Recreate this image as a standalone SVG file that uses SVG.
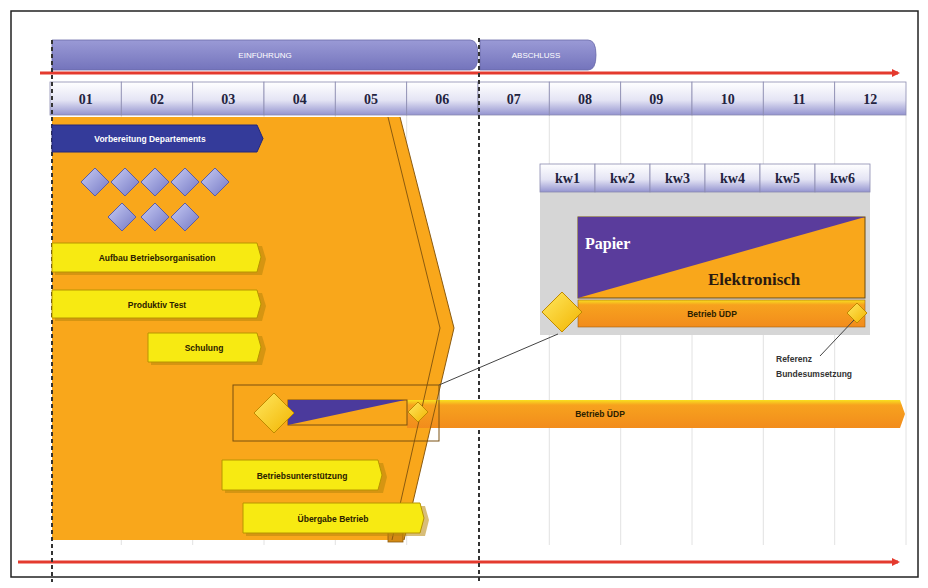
<svg xmlns="http://www.w3.org/2000/svg" width="928" height="588" viewBox="0 0 928 588">
<defs>
<linearGradient id="hdr" x1="0" y1="0" x2="0" y2="1"><stop offset="0" stop-color="#ffffff"/><stop offset="0.55" stop-color="#e4e4f4"/><stop offset="1" stop-color="#9494d0"/></linearGradient>
<linearGradient id="phase" x1="0" y1="0" x2="0" y2="1"><stop offset="0" stop-color="#9a9ad6"/><stop offset="1" stop-color="#7474bc"/></linearGradient>
<linearGradient id="dia" x1="0" y1="0" x2="1" y2="1"><stop offset="0" stop-color="#c8ccf4"/><stop offset="1" stop-color="#7478c4"/></linearGradient>
<linearGradient id="ydia" x1="0" y1="0" x2="1" y2="1"><stop offset="0" stop-color="#ffe860"/><stop offset="1" stop-color="#f2b400"/></linearGradient>
<linearGradient id="bet" x1="0" y1="0" x2="0" y2="1"><stop offset="0" stop-color="#f8e020"/><stop offset="0.18" stop-color="#f7a21e"/><stop offset="1" stop-color="#f28c1c"/></linearGradient>
<marker id="arr" markerWidth="8" markerHeight="8" refX="6" refY="4" orient="auto" markerUnits="userSpaceOnUse"><path d="M0,0 L8,4 L0,8 Z" fill="#e43a2e"/></marker>
<style>
.red{stroke:#e43a2e;stroke-width:3;fill:none}
.grid{stroke:#e2e2e2;stroke-width:1}
.dash{stroke:#333;stroke-width:2;stroke-dasharray:4 3;fill:none}
.hdr{fill:url(#hdr);stroke:#8a8ab0;stroke-width:0.8}
.num{font-family:"Liberation Serif",serif;font-weight:bold;font-size:14px;fill:#23233f;text-anchor:middle}
.ph{font-family:"Liberation Sans",sans-serif;font-size:8px;fill:#fff;text-anchor:middle}
.ybar{fill:#f7ea12;stroke:#b89400;stroke-width:1}
.ysh{fill:#b8860b;opacity:0.55}
.lbl{font-family:"Liberation Sans",sans-serif;font-weight:bold;font-size:8.5px;fill:#2a2000;text-anchor:middle}
.bdia{fill:url(#dia);stroke:#5e5ea0;stroke-width:1}
.ydia{fill:url(#ydia);stroke:#c08a00;stroke-width:1}
.conn{stroke:#444;stroke-width:1;fill:none}
.edge{fill:none;stroke:#8a5a10;stroke-width:1}
</style>
</defs>
<rect x="11" y="11" width="907" height="566" fill="#fff" stroke="#222" stroke-width="1.5"/>

<g id="grid">
<line class="grid" x1="121.3" y1="115" x2="121.3" y2="545"/>
<line class="grid" x1="192.7" y1="115" x2="192.7" y2="545"/>
<line class="grid" x1="264" y1="115" x2="264" y2="545"/>
<line class="grid" x1="335.3" y1="115" x2="335.3" y2="545"/>
<line class="grid" x1="406.7" y1="115" x2="406.7" y2="545"/>
<line class="grid" x1="549.3" y1="115" x2="549.3" y2="545"/>
<line class="grid" x1="620.7" y1="115" x2="620.7" y2="545"/>
<line class="grid" x1="692" y1="115" x2="692" y2="545"/>
<line class="grid" x1="763.3" y1="115" x2="763.3" y2="545"/>
<line class="grid" x1="834.7" y1="115" x2="834.7" y2="545"/>
<line class="grid" x1="906" y1="115" x2="906" y2="545"/>
</g>

<g id="phase-einfuehrung">
<path d="M52,40 H470 Q478,40 478,55 Q478,70 470,70 H52 Z" fill="url(#phase)" stroke="#6a6aa8" stroke-width="0.8"/>
<text class="ph" x="265" y="58">EINFÜHRUNG</text>
</g>
<g id="phase-abschluss">
<path d="M480,40 H588 Q596,40 596,55 Q596,70 588,70 H480 Z" fill="url(#phase)" stroke="#6a6aa8" stroke-width="0.8"/>
<text class="ph" x="536" y="58">ABSCHLUSS</text>
</g>

<g id="months">
<rect class="hdr" x="50" y="82" width="71.3" height="33"/>
<rect class="hdr" x="121.3" y="82" width="71.4" height="33"/>
<rect class="hdr" x="192.7" y="82" width="71.3" height="33"/>
<rect class="hdr" x="264" y="82" width="71.3" height="33"/>
<rect class="hdr" x="335.3" y="82" width="71.4" height="33"/>
<rect class="hdr" x="406.7" y="82" width="71.3" height="33"/>
<rect class="hdr" x="478" y="82" width="71.3" height="33"/>
<rect class="hdr" x="549.3" y="82" width="71.4" height="33"/>
<rect class="hdr" x="620.7" y="82" width="71.3" height="33"/>
<rect class="hdr" x="692" y="82" width="71.3" height="33"/>
<rect class="hdr" x="763.3" y="82" width="71.4" height="33"/>
<rect class="hdr" x="834.7" y="82" width="71.3" height="33"/>
<text class="num" x="85.7" y="104">01</text>
<text class="num" x="157" y="104">02</text>
<text class="num" x="228.3" y="104">03</text>
<text class="num" x="299.7" y="104">04</text>
<text class="num" x="371" y="104">05</text>
<text class="num" x="442.3" y="104">06</text>
<text class="num" x="513.7" y="104">07</text>
<text class="num" x="585" y="104">08</text>
<text class="num" x="656.3" y="104">09</text>
<text class="num" x="727.7" y="104">10</text>
<text class="num" x="799" y="104">11</text>
<text class="num" x="870.3" y="104">12</text>
</g>

<g id="phase-area">
<polygon points="52,117 400,117 454,328 404,540 52,540" fill="#f9a71b"/>
<rect x="388" y="532" width="15" height="10" fill="#d48a14" stroke="#8a5a10" stroke-width="0.8"/>
</g>

<g id="timeline-top"><line class="red" x1="40" y1="73" x2="898" y2="73" marker-end="url(#arr)"/></g>
<g id="timeline-bottom"><line class="red" x1="18" y1="562" x2="898" y2="562" marker-end="url(#arr)"/></g>

<g id="dividers">
<line class="dash" x1="479" y1="38" x2="479" y2="582"/>
<line class="dash" x1="52" y1="40" x2="52" y2="582"/>
</g>

<g id="vorbereitung">
<path d="M52,125 H257 L263,138.5 L257,152 H52 Z" fill="#343b9a" stroke="#24287a" stroke-width="1"/>
<text x="150" y="141.5" font-family="Liberation Sans, sans-serif" font-weight="bold" font-size="8.5" fill="#fff" text-anchor="middle">Vorbereitung Departements</text>
</g>

<g id="departements">
<polygon class="bdia" points="95,168 109,182 95,196 81,182"/>
<polygon class="bdia" points="125,168 139,182 125,196 111,182"/>
<polygon class="bdia" points="155,168 169,182 155,196 141,182"/>
<polygon class="bdia" points="185,168 199,182 185,196 171,182"/>
<polygon class="bdia" points="215,168 229,182 215,196 201,182"/>
<polygon class="bdia" points="122,203 136,217 122,231 108,217"/>
<polygon class="bdia" points="155,203 169,217 155,231 141,217"/>
<polygon class="bdia" points="185,203 199,217 185,231 171,217"/>
</g>

<g id="aufbau">
<path class="ysh" d="M55,246 H262 L266,259 L262,275 H55 Z"/>
<path class="ybar" d="M52,243 H257 L261,257 L257,272 H52 Z"/>
<text class="lbl" x="157" y="260.5">Aufbau Betriebsorganisation</text>
</g>
<g id="produktiv">
<path class="ysh" d="M55,293 H262 L266,306 L262,321 H55 Z"/>
<path class="ybar" d="M52,290 H257 L261,304 L257,318 H52 Z"/>
<text class="lbl" x="157" y="307.5">Produktiv Test</text>
</g>
<g id="schulung">
<path class="ysh" d="M151,336 H262 L266,349 L262,365 H151 Z"/>
<path class="ybar" d="M148,333 H257 L261,347 L257,362 H148 Z"/>
<text class="lbl" x="204" y="350.5">Schulung</text>
</g>

<g id="betrieb-udp">
<path d="M407,400 H900 L905,414 L900,428 H407 Z" fill="url(#bet)"/>
<text class="lbl" x="600" y="417">Betrieb ÜDP</text>
</g>

<g id="phase-edges">
<polyline class="edge" points="388,117 440,328 392,540"/>
<polyline class="edge" points="400,117 454,328 404,540" stroke-width="0.8"/>
</g>

<g id="detail-box">
<rect x="233" y="385" width="206" height="56" fill="none" stroke="#7a5010" stroke-width="1"/>
<rect x="288" y="400" width="119" height="25" fill="none" stroke="#7a5010" stroke-width="1"/>
<polygon points="288,400 405,400 288,425" fill="#4b3a9c"/>
</g>

<g id="start-milestone">
<polygon class="ydia" points="274,393 294,413 274,433 254,413"/>
<polygon class="ydia" points="418,402 428,412 418,422 408,412"/>
</g>

<g id="betriebsunterstuetzung">
<path class="ysh" d="M225,463 H383 L387,477 L383,493 H225 Z"/>
<path class="ybar" d="M222,460 H378 L382,475 L378,490 H222 Z"/>
<text class="lbl" x="302" y="478.5">Betriebsunterstützung</text>
</g>
<g id="uebergabe">
<path class="ysh" d="M246,506 H425 L429,520 L425,536 H246 Z"/>
<path class="ybar" d="M243,503 H420 L424,518 L420,533 H243 Z"/>
<text class="lbl" x="333" y="521.5">Übergabe Betrieb</text>
</g>

<g id="zoom-panel">
<rect x="540" y="190" width="330" height="145" fill="#d6d6d6"/>
<rect class="hdr" x="540" y="164" width="55" height="28"/>
<rect class="hdr" x="595" y="164" width="55" height="28"/>
<rect class="hdr" x="650" y="164" width="55" height="28"/>
<rect class="hdr" x="705" y="164" width="55" height="28"/>
<rect class="hdr" x="760" y="164" width="55" height="28"/>
<rect class="hdr" x="815" y="164" width="55" height="28"/>
<text class="num" x="567.5" y="183">kw1</text>
<text class="num" x="622.5" y="183">kw2</text>
<text class="num" x="677.5" y="183">kw3</text>
<text class="num" x="732.5" y="183">kw4</text>
<text class="num" x="787.5" y="183">kw5</text>
<text class="num" x="842.5" y="183">kw6</text>
</g>
<g id="papier-elektronisch">
<rect x="578" y="217" width="287" height="81" fill="#f9a71b" stroke="#6a4a10" stroke-width="1"/>
<polygon points="578,217 865,217 578,298" fill="#5a3c9c"/>
<text x="585" y="249" font-family="Liberation Serif, serif" font-weight="bold" font-size="16" fill="#fff">Papier</text>
<text x="708" y="285" font-family="Liberation Serif, serif" font-weight="bold" font-size="17" fill="#2a1a10">Elektronisch</text>
</g>
<g id="betrieb-udp-detail">
<rect x="578" y="300" width="287" height="27" fill="url(#bet)" stroke="#a06010" stroke-width="0.6"/>
<text class="lbl" x="712" y="316.5">Betrieb ÜDP</text>
</g>
<g id="milestone-left"><polygon class="ydia" points="562,292 582,312 562,332 542,312"/></g>
<g id="milestone-right"><polygon class="ydia" points="857,303 867,313 857,323 847,313"/></g>
<g id="referenz">
<text x="776" y="362" font-family="Liberation Sans, sans-serif" font-weight="bold" font-size="8.5" fill="#333">Referenz</text>
<text x="776" y="377" font-family="Liberation Sans, sans-serif" font-weight="bold" font-size="8.5" fill="#333">Bundesumsetzung</text>
</g>

<g id="connectors">
<line class="conn" x1="439" y1="385" x2="558" y2="334"/>
<line class="conn" x1="854" y1="320" x2="820" y2="356"/>
</g>
</svg>
